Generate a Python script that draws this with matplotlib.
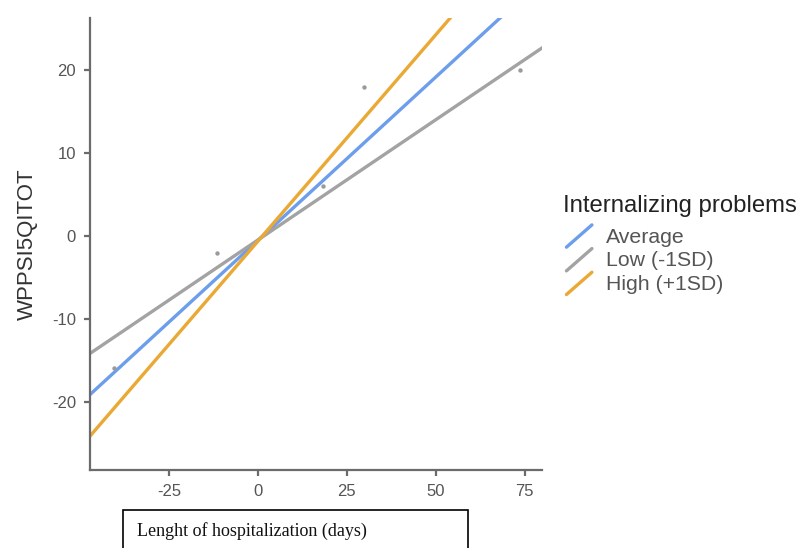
import numpy as np
import matplotlib
matplotlib.use("Agg")
import matplotlib.pyplot as plt
from matplotlib.legend_handler import HandlerLine2D
from matplotlib.lines import Line2D

# observed points
obs_x = [-40.4, -11.5, 18.3, 29.8, 73.6]
obs_y = [-15.9, -2.0, 6.0, 18.0, 20.0]

# simple slopes for the moderator levels
groups = ["Average", "Low (-1SD)", "High (+1SD)"]
slopes = [0.394, 0.29, 0.498]
intercepts = [-0.5, -0.45, -0.6]
colors = ["#6d9eeb", "#a3a3a3", "#eaa934"]

xticks = [-25, 0, 25, 50, 75]
yticks = [-20, -10, 0, 10, 20]


class DiagHandler(HandlerLine2D):
    def create_artists(self, legend, orig_handle, xdescent, ydescent,
                       width, height, fontsize, trans):
        line = Line2D([xdescent + width * 0.1, width * 0.9],
                      [-ydescent - height * 0.3, height * 1.2],
                      color=orig_handle.get_color(),
                      linewidth=orig_handle.get_linewidth(),
                      solid_capstyle="round")
        line.set_transform(trans)
        return [line]


plt.rcParams["font.family"] = ["Liberation Sans", "DejaVu Sans"]
plt.rcParams["axes.unicode_minus"] = False

fig = plt.figure(figsize=(8.1, 5.48), dpi=100)
ax = fig.add_axes([0.111, 0.142, 0.558, 0.825])

xs = np.array([-50, 85])
handles = []
for name, b, a, c in zip(groups, slopes, intercepts, colors):
    h, = ax.plot(xs, a + b * xs, color=c, linewidth=2.4, label=name)
    handles.append(h)

ax.scatter(obs_x, obs_y, s=10, color="#9a9a9a", zorder=3, linewidths=0)

ax.set_xlim(-47.2, 79.8)
ax.set_ylim(-28.2, 26.3)
ax.set_xticks(xticks)
ax.set_yticks(yticks)

for s in ["top", "right"]:
    ax.spines[s].set_visible(False)
for s in ["left", "bottom"]:
    ax.spines[s].set_color("#6b6b6b")
    ax.spines[s].set_linewidth(1.6)
ax.tick_params(colors="#6b6b6b", labelcolor="#555555", labelsize=12,
               length=4, width=1.6, pad=6)

ax.set_ylabel("WPPSI5QITOT", fontsize=16, color="#333333", labelpad=10)

leg = fig.legend(handles=handles, title="Internalizing problems",
                 loc="upper left", bbox_to_anchor=(0.677, 0.672),
                 frameon=False, fontsize=15.3, title_fontsize=17.2,
                 handler_map={Line2D: DiagHandler()},
                 handlelength=1.5, handletextpad=0.5, labelspacing=0.22,
                 borderpad=0.2)
leg._legend_box.align = "left"
leg._legend_box.sep = 8  # a bit more room under the title
for t in leg.get_texts():
    t.set_color("#555555")
leg.get_title().set_color("#222222")

# boxed x-axis label below the axis
fig.patches.append(plt.Rectangle((0.152, -0.01), 0.426, 0.08,
                                 transform=fig.transFigure, fill=False,
                                 edgecolor="black", linewidth=1.2))
fig.text(0.169, 0.031, "Lenght of hospitalization (days)",
         fontsize=13, family="Liberation Serif", color="#111111",
         va="center", ha="left")

fig.savefig("out.png", dpi=100)
